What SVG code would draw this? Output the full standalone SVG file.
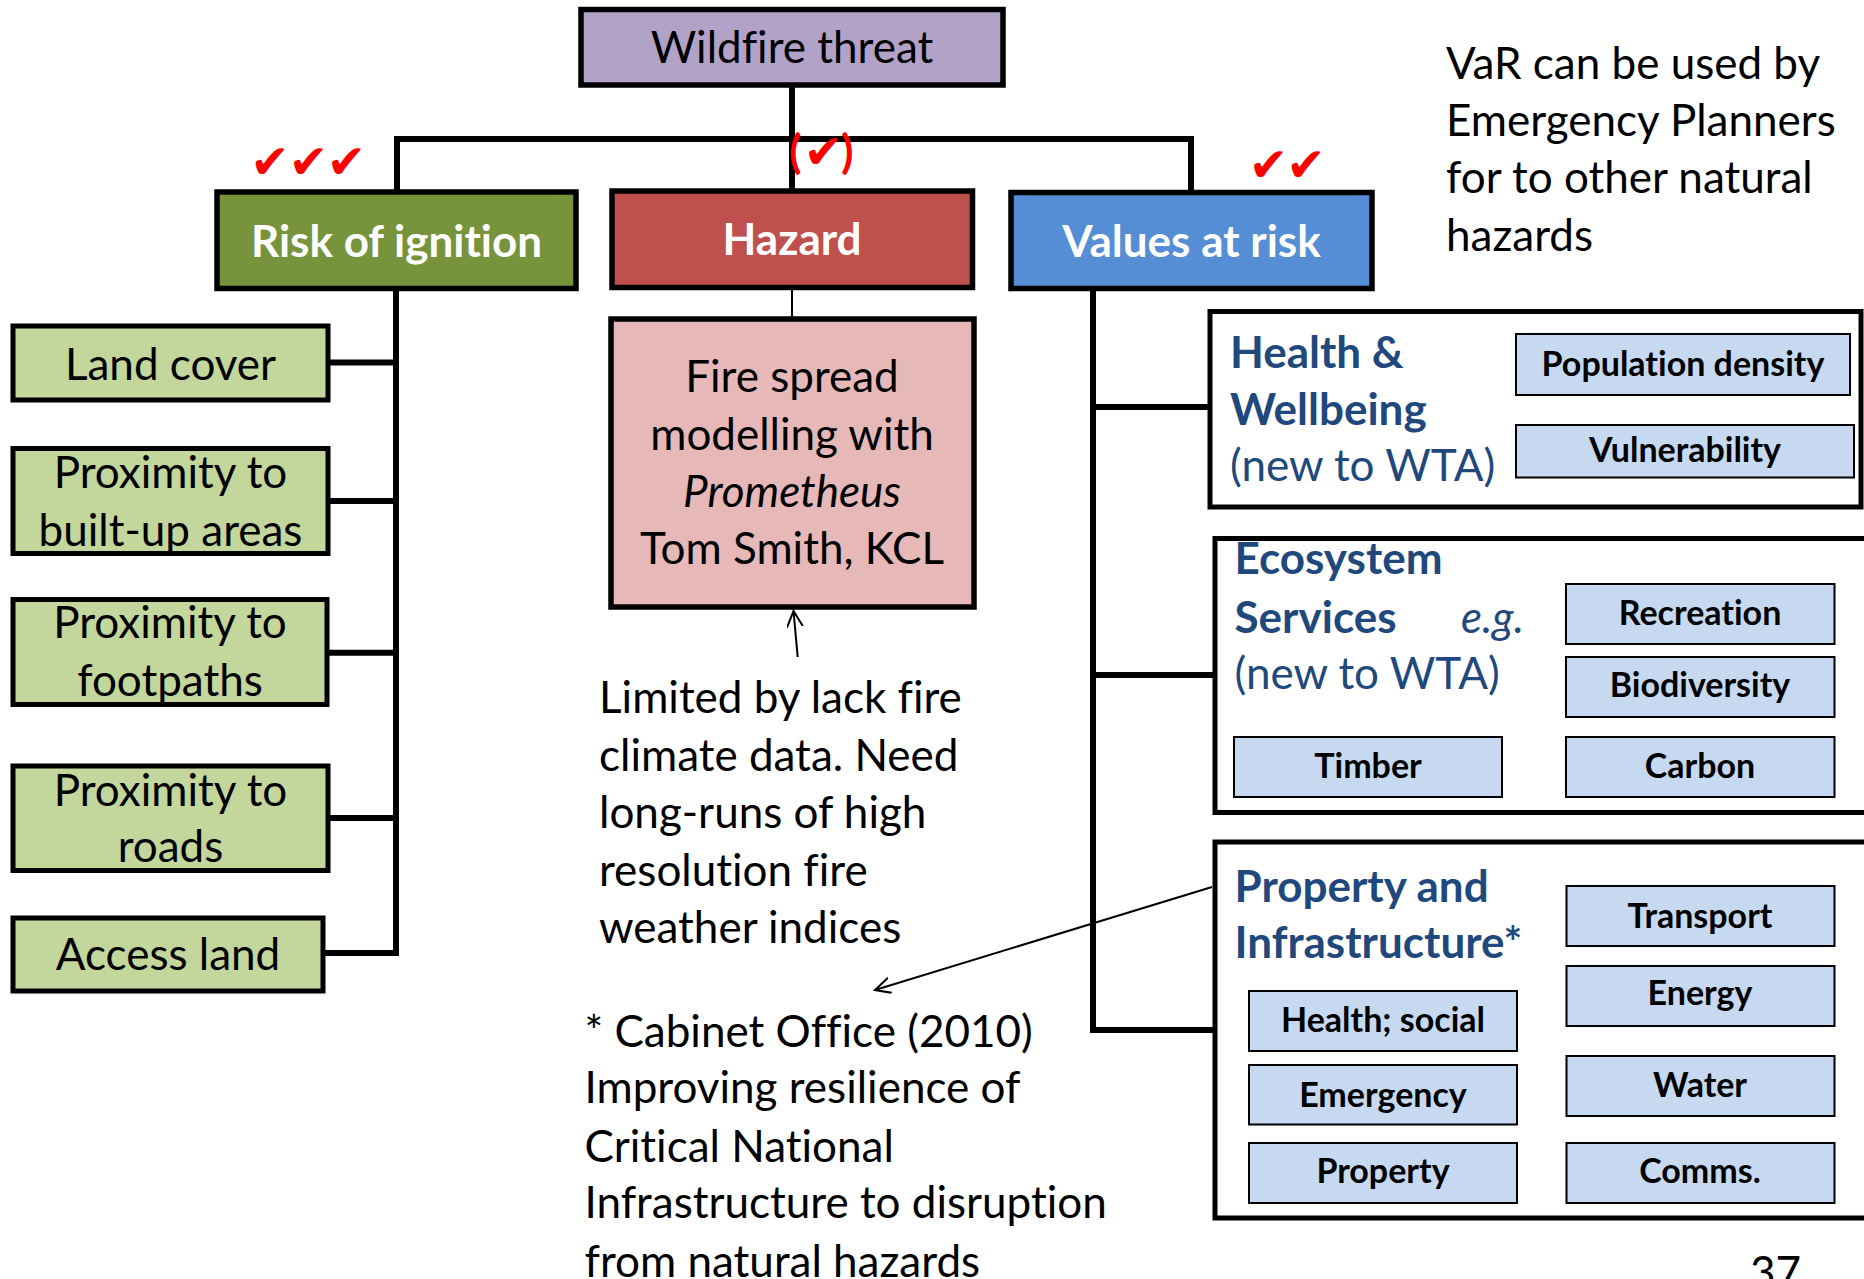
<svg xmlns="http://www.w3.org/2000/svg" width="1864" height="1279" viewBox="0 0 1864 1279">
<defs>
<marker id="arr" markerUnits="userSpaceOnUse" markerWidth="20" markerHeight="20" refX="16" refY="8" orient="auto">
<path d="M0,0 L16,8 L0,16" fill="none" stroke="#000" stroke-width="2"/>
</marker>
</defs>
<style>
text{font-family:Lato,"Liberation Sans",sans-serif;font-variant-ligatures:none;}
.main{stroke:#000;stroke-width:5.5;}
.leaf{fill:#C3D69B;stroke:#000;stroke-width:5;}
.cont{fill:#fff;stroke:#000;stroke-width:5;}
.sub{fill:#C6D9F1;stroke:#000;stroke-width:2;}
.t{font-size:44px;fill:#000;}
.c{text-anchor:middle;}
.wb{font-size:44px;font-weight:bold;fill:#fff;text-anchor:middle;}
.bl{font-size:44px;fill:#1F497D;}
.blb{font-size:44px;font-weight:bold;fill:#1F497D;}
.sb{font-size:34px;font-weight:bold;fill:#000;text-anchor:middle;}
.ck{font-family:"DejaVu Sans",sans-serif;font-size:47px;fill:#FF0000;text-anchor:middle;}
.par{font-size:46px;font-weight:bold;fill:#FF0000;}
.conn{stroke:#000;stroke-width:6;fill:none;stroke-linecap:square;}
.thin{stroke:#000;stroke-width:2;fill:none;}
</style>
<rect width="1864" height="1279" fill="#fff"/>

<g id="connectors">
<path class="conn" d="M792,85 V191 M397,192 V139 H1191 V192"/>
<path class="thin" d="M792,288 V319"/>
<path class="conn" d="M396,288 V953 M328,362.5 H396 M328,501 H396 M327,652.7 H396 M328,818 H396 M323,953 H396"/>
<path class="conn" d="M1093,288 V1030 H1215 M1093,407 H1210 M1093,675 H1215"/>
<line class="thin" x1="797.7" y1="657" x2="793.5" y2="611" marker-end="url(#arr)"/>
<line class="thin" x1="1212" y1="887" x2="875" y2="990" marker-end="url(#arr)"/>
</g>

<g id="wildfire">
<rect class="main" x="581" y="9.5" width="422" height="75.5" fill="#B2A2C7"/>
<text class="t c" x="792" y="63">Wildfire threat</text>
</g>

<g id="risk">
<rect class="main" x="217" y="192" width="359" height="96.5" fill="#77933C"/>
<text class="wb" x="396.5" y="257">Risk of ignition</text>
</g>
<g id="hazard">
<rect class="main" x="612" y="191" width="360.5" height="96.5" fill="#C0504D"/>
<text class="wb" x="792" y="255">Hazard</text>
</g>
<g id="values">
<rect class="main" x="1011" y="192.5" width="361" height="96" fill="#558ED5"/>
<text class="wb" x="1191.5" y="257">Values at risk</text>
</g>

<g id="checks">
<text class="ck" x="270" y="178">✔</text>
<text class="ck" x="308.5" y="178">✔</text>
<text class="ck" x="346.5" y="178">✔</text>
<text class="par" x="789" y="168">(</text>
<text class="ck" x="823.5" y="168">✔</text>
<text class="par" x="841" y="168">)</text>
<text class="ck" x="1268.5" y="181">✔</text>
<text class="ck" x="1306" y="181">✔</text>
</g>

<g id="var-note">
<text class="t" x="1446" y="79">VaR can be used by</text>
<text class="t" x="1446" y="136">Emergency Planners</text>
<text class="t" x="1446" y="193">for to other natural</text>
<text class="t" x="1446" y="251">hazards</text>
</g>

<g id="land-cover">
<rect class="leaf" x="13" y="326" width="315" height="74"/>
<text class="t c" x="170.5" y="379.5">Land cover</text>
</g>
<g id="prox-built">
<rect class="leaf" x="13" y="448.5" width="315" height="105"/>
<text class="t c" x="170.5" y="487.5">Proximity to</text>
<text class="t c" x="170.5" y="545.5">built-up areas</text>
</g>
<g id="prox-foot">
<rect class="leaf" x="13" y="599.5" width="314" height="105"/>
<text class="t c" x="170" y="638">Proximity to</text>
<text class="t c" x="170" y="696">footpaths</text>
</g>
<g id="prox-roads">
<rect class="leaf" x="13" y="766" width="315" height="104.5"/>
<text class="t c" x="170.5" y="806">Proximity to</text>
<text class="t c" x="170.5" y="861.5">roads</text>
</g>
<g id="access-land">
<rect class="leaf" x="13" y="918" width="310" height="73"/>
<text class="t c" x="168" y="969.5">Access land</text>
</g>

<g id="fire-spread">
<rect class="main" x="611" y="319" width="363" height="288" fill="#E6B9B8"/>
<text class="t c" x="792" y="391.5">Fire spread</text>
<text class="t c" x="792" y="449.5">modelling with</text>
<text class="t c" x="792" y="506.5" font-style="italic">Prometheus</text>
<text class="t c" x="792" y="564">Tom Smith, KCL</text>
</g>

<g id="limited-note">
<text class="t" x="599" y="713">Limited by lack fire</text>
<text class="t" x="599" y="771">climate data. Need</text>
<text class="t" x="599" y="828">long-runs of high</text>
<text class="t" x="599" y="886">resolution fire</text>
<text class="t" x="599" y="943">weather indices</text>
</g>

<g id="cabinet-note">
<text class="t" x="584.5" y="1046.5">* Cabinet Office (2010)</text>
<text class="t" x="584.5" y="1103">Improving resilience of</text>
<text class="t" x="584.5" y="1161.5">Critical National</text>
<text class="t" x="584.5" y="1218">Infrastructure to disruption</text>
<text class="t" x="584.5" y="1276.5">from natural hazards</text>
</g>

<g id="health">
<rect class="cont" x="1210" y="311.5" width="651" height="195.5"/>
<text class="blb" x="1230" y="367.5">Health &amp;</text>
<text class="blb" x="1230" y="425">Wellbeing</text>
<text class="bl" x="1230" y="481">(new to WTA)</text>
<g id="population-density">
<rect class="sub" x="1516" y="334" width="334" height="61"/>
<text class="sb" x="1683" y="376">Population density</text>
</g>
<g id="vulnerability">
<rect class="sub" x="1516" y="425" width="338" height="52.5"/>
<text class="sb" x="1685" y="462">Vulnerability</text>
</g>
</g>

<g id="ecosystem">
<rect class="cont" x="1215" y="538.5" width="660" height="274"/>
<text class="blb" x="1234.5" y="574">Ecosystem</text>
<text class="blb" x="1234.5" y="633">Services</text>
<text class="bl" x="1461" y="633" font-style="italic">e.g.</text>
<text class="bl" x="1234.5" y="689">(new to WTA)</text>
<g id="recreation">
<rect class="sub" x="1566" y="584" width="268.5" height="60"/>
<text class="sb" x="1700" y="624.5">Recreation</text>
</g>
<g id="biodiversity">
<rect class="sub" x="1566" y="657" width="268.5" height="60"/>
<text class="sb" x="1700" y="697">Biodiversity</text>
</g>
<g id="timber">
<rect class="sub" x="1234" y="737" width="268" height="60"/>
<text class="sb" x="1368" y="778">Timber</text>
</g>
<g id="carbon">
<rect class="sub" x="1566" y="737" width="268.5" height="60"/>
<text class="sb" x="1700" y="778">Carbon</text>
</g>
</g>

<g id="property-infra">
<rect class="cont" x="1215" y="842" width="660" height="376"/>
<text class="blb" x="1234.5" y="901.5">Property and</text>
<text class="blb" x="1234.5" y="958">Infrastructure*</text>
<g id="transport">
<rect class="sub" x="1566.5" y="886" width="268" height="60"/>
<text class="sb" x="1700" y="928">Transport</text>
</g>
<g id="energy">
<rect class="sub" x="1566.5" y="966" width="268" height="60"/>
<text class="sb" x="1700" y="1005">Energy</text>
</g>
<g id="water">
<rect class="sub" x="1566.5" y="1056" width="268" height="60"/>
<text class="sb" x="1700" y="1096.5">Water</text>
</g>
<g id="comms">
<rect class="sub" x="1566.5" y="1143" width="268" height="60"/>
<text class="sb" x="1700" y="1183">Comms.</text>
</g>
<g id="health-social">
<rect class="sub" x="1249" y="991" width="268" height="60"/>
<text class="sb" x="1383" y="1031.5">Health; social</text>
</g>
<g id="emergency">
<rect class="sub" x="1249" y="1065" width="268" height="59.5"/>
<text class="sb" x="1383" y="1106.5">Emergency</text>
</g>
<g id="property">
<rect class="sub" x="1249" y="1143" width="268" height="60"/>
<text class="sb" x="1383" y="1183">Property</text>
</g>
</g>

<g id="page-number">
<text class="t" x="1750" y="1288">37</text>
</g>
</svg>
